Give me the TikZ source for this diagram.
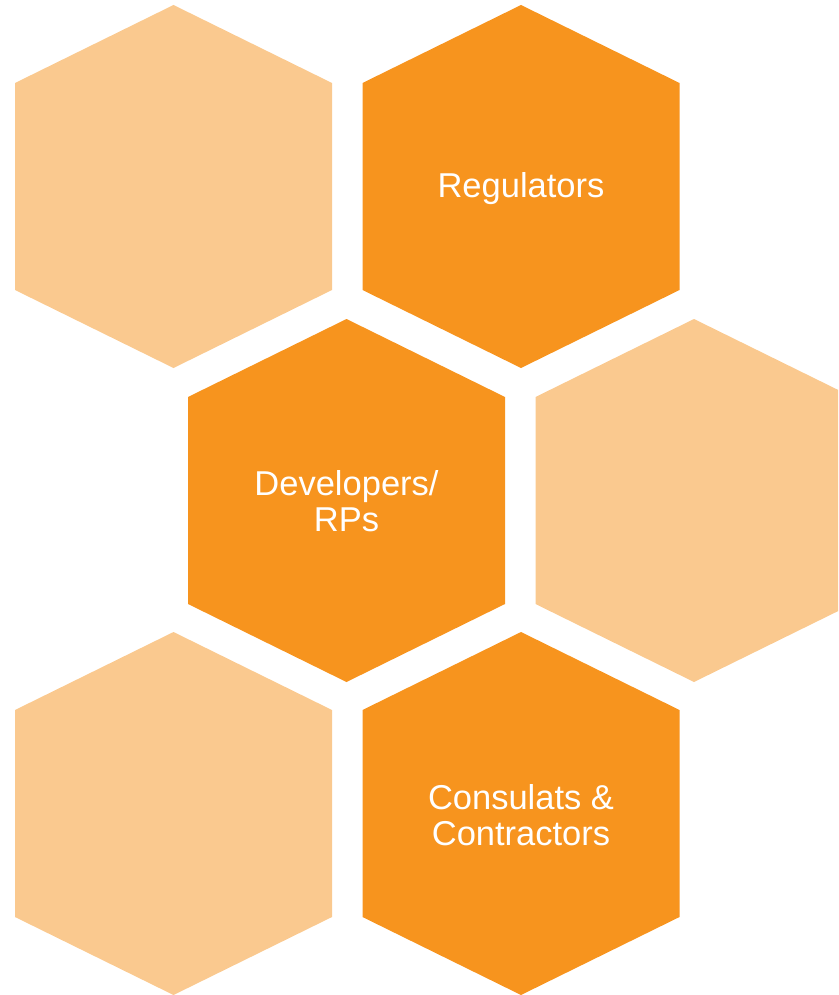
\documentclass[tikz,border=0pt]{standalone}
\usepackage{fontspec}
\setmainfont{Liberation Sans}
\definecolor{hexdark}{HTML}{F7941E}
\definecolor{hexlight}{HTML}{FAC98F}
\newcommand{\hexat}[3]{%
  \fill[#3] ($(#1,#2)+(0,-181.5)$) -- ($(#1,#2)+(158.5,-103.5)$) -- ($(#1,#2)+(158.5,103.5)$) --
    ($(#1,#2)+(0,181.5)$) -- ($(#1,#2)+(-158.5,103.5)$) -- ($(#1,#2)+(-158.5,-103.5)$) -- cycle;}
\usetikzlibrary{calc}
\begin{document}
\begin{tikzpicture}[x=1pt,y=-1pt,
  lbl/.style={text=white,font=\fontsize{34.5}{36}\selectfont,align=center}]
\useasboundingbox (0,0) rectangle (838,995);
\clip (0,0) rectangle (838,995);
\hexat{173.5}{186.5}{hexlight}
\hexat{521}{186.5}{hexdark}
\hexat{346.5}{500.5}{hexdark}
\hexat{694}{500.5}{hexlight}
\hexat{173.5}{813.5}{hexlight}
\hexat{521}{813.5}{hexdark}
\node[lbl] (reg) at (521,189) {Regulators};
\node[lbl] (dev) at (346.5,501) {Developers/\\RPs};
\node[lbl] (con) at (521,815) {Consulats \&\\Contractors};
\end{tikzpicture}
\end{document}
